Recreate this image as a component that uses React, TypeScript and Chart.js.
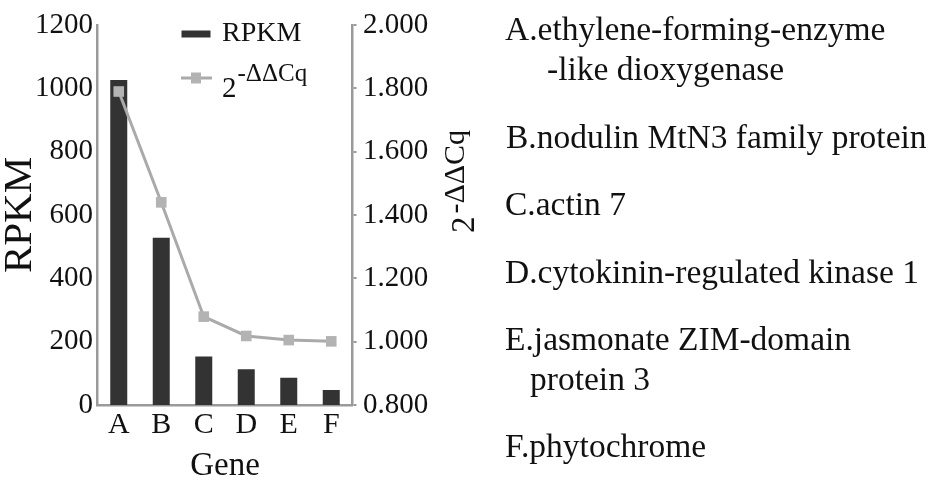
import React, { useEffect, useRef } from "react";
import { Chart, registerables } from "chart.js";

Chart.register(...registerables);

// ---- data ----
const genes = ["A", "B", "C", "D", "E", "F"];
const rpkmValues = [1026, 528, 153, 113, 86, 47];
const ddcqValues = [1.79, 1.44, 1.079, 1.018, 1.005, 1.001];
const rpkmTickStep = 200;
const ddcqTickStep = 0.2;
const rpkmRange = [0, 1200];
const ddcqRange = [0.8, 2.0];
const barSeriesName = "RPKM";
const lineSeriesBase = "2";
const lineSeriesSup = "-ΔΔCq";
const xTitle = "Gene";
const yTitle = "RPKM";
const descriptionLines = [
  "A.ethylene-forming-enzyme",
  "-like dioxygenase",
  "B.nodulin MtN3 family protein",
  "C.actin 7",
  "D.cytokinin-regulated kinase 1",
  "E.jasmonate ZIM-domain",
  "protein 3",
  "F.phytochrome",
];

// ---- layout / styles ----
const SERIF = "'Liberation Serif', 'Times New Roman', serif";
const AXIS = "#9a9a9a";
const TEXT = "#111111";
const BAR = "#333333";
const LINE = "#aaaaaa";
const descPos = [
  [505, 40],
  [547, 80],
  [506, 148],
  [505, 215],
  [505, 283],
  [505, 350],
  [530, 390],
  [505, 457],
];

const overlayPlugin = {
  id: "overlay",
  afterDraw(chart: any) {
    const ctx = chart.ctx;
    ctx.save();
    // legend: bar item
    ctx.fillStyle = BAR;
    ctx.fillRect(181.5, 30.5, 29, 7);
    ctx.fillStyle = TEXT;
    ctx.textBaseline = "alphabetic";
    ctx.textAlign = "left";
    ctx.font = `28px ${SERIF}`;
    ctx.fillText(barSeriesName, 222, 41);
    // legend: line item
    ctx.strokeStyle = LINE;
    ctx.lineWidth = 3;
    ctx.beginPath();
    ctx.moveTo(181, 78);
    ctx.lineTo(212, 78);
    ctx.stroke();
    ctx.fillStyle = "#b3b3b3";
    ctx.fillRect(191, 72.5, 10, 11);
    ctx.fillStyle = TEXT;
    ctx.font = `29px ${SERIF}`;
    ctx.fillText(lineSeriesBase, 222, 97);
    const w2 = ctx.measureText(lineSeriesBase).width;
    ctx.font = `25px ${SERIF}`;
    ctx.fillText(lineSeriesSup, 222 + w2 + 1, 81);
    ctx.restore();

    // right axis title (rotated, reads bottom to top)
    ctx.save();
    ctx.translate(474, 233);
    ctx.rotate(-Math.PI / 2);
    ctx.fillStyle = TEXT;
    ctx.textBaseline = "alphabetic";
    ctx.textAlign = "left";
    ctx.font = `33px ${SERIF}`;
    ctx.fillText(lineSeriesBase, 0, 0);
    const w = ctx.measureText(lineSeriesBase).width;
    ctx.font = `30px ${SERIF}`;
    ctx.fillText(lineSeriesSup, w + 3, -10);
    ctx.restore();
  },
};

export default function App() {
  const canvasRef = useRef<HTMLCanvasElement | null>(null);

  useEffect(() => {
    if (!canvasRef.current) return;
    const chart = new Chart(canvasRef.current, {
      type: "bar",
      data: {
        labels: genes,
        datasets: [
          {
            type: "bar",
            label: barSeriesName,
            data: rpkmValues,
            yAxisID: "y",
            backgroundColor: BAR,
            barPercentage: 0.4,
            categoryPercentage: 1,
            order: 2,
          } as any,
          {
            type: "line",
            label: lineSeriesBase + lineSeriesSup,
            data: ddcqValues,
            yAxisID: "y1",
            borderColor: LINE,
            borderWidth: 3,
            pointStyle: "rect",
            pointRadius: 7.5,
            pointBackgroundColor: "#b3b3b3",
            pointBorderColor: "#b3b3b3",
            pointBorderWidth: 0,
            tension: 0,
            order: 1,
          } as any,
        ],
      },
      options: {
        responsive: false,
        animation: false,
        layout: { padding: { top: 25, left: 0, right: 0, bottom: 0 } },
        plugins: { legend: { display: false }, tooltip: { enabled: false } },
        scales: {
          x: {
            grid: { display: false, drawTicks: false },
            border: { display: true, color: AXIS, width: 2.5 },
            ticks: { font: { family: SERIF, size: 30 }, color: TEXT, padding: 2 },
            title: {
              display: true,
              text: xTitle,
              color: TEXT,
              font: { family: SERIF, size: 33, lineHeight: 1 },
              padding: { top: 0, bottom: 11 },
            },
            afterFit: (s: any) => {
              s.height = 89;
            },
          },
          y: {
            position: "left",
            min: rpkmRange[0],
            max: rpkmRange[1],
            ticks: {
              stepSize: rpkmTickStep,
              font: { family: SERIF, size: 29 },
              color: TEXT,
              padding: 4.5,
              callback: (v: any) => String(Math.round(Number(v))),
            },
            grid: { display: false, drawTicks: false },
            border: { display: true, color: AXIS, width: 2.5 },
            title: {
              display: true,
              text: yTitle,
              color: TEXT,
              font: { family: SERIF, size: 41, lineHeight: 1 },
              padding: 0,
            },
            afterFit: (s: any) => {
              s.width = 97.5;
            },
          },
          y1: {
            position: "right",
            min: ddcqRange[0],
            max: ddcqRange[1],
            ticks: {
              stepSize: ddcqTickStep,
              font: { family: SERIF, size: 29 },
              color: TEXT,
              padding: 6.5,
              callback: (v: any) => Number(v).toFixed(3),
            },
            grid: { drawOnChartArea: false, drawTicks: true, tickLength: 4, color: AXIS, lineWidth: 2 },
            border: { display: true, color: AXIS, width: 2.5 },
            afterFit: (s: any) => {
              s.width = 935 - 352.5;
            },
          },
        },
      } as any,
      plugins: [overlayPlugin],
    });
    return () => chart.destroy();
  }, []);

  return (
    <div style={{ position: "absolute", left: 0, top: 0, width: 935, height: 494, background: "#fff" }}>
      <canvas ref={canvasRef} width={935} height={494} style={{ position: "absolute", left: 0, top: 0, width: 935, height: 494 }} />
      {descriptionLines.map((t, i) => (
        <div
          key={i}
          style={{
            position: "absolute",
            left: descPos[i][0],
            top: descPos[i][1] - 28.2,
            fontFamily: SERIF,
            fontSize: 33.5,
            lineHeight: "34px",
            whiteSpace: "nowrap",
            color: TEXT,
          }}
        >
          {t}
        </div>
      ))}
    </div>
  );
}
